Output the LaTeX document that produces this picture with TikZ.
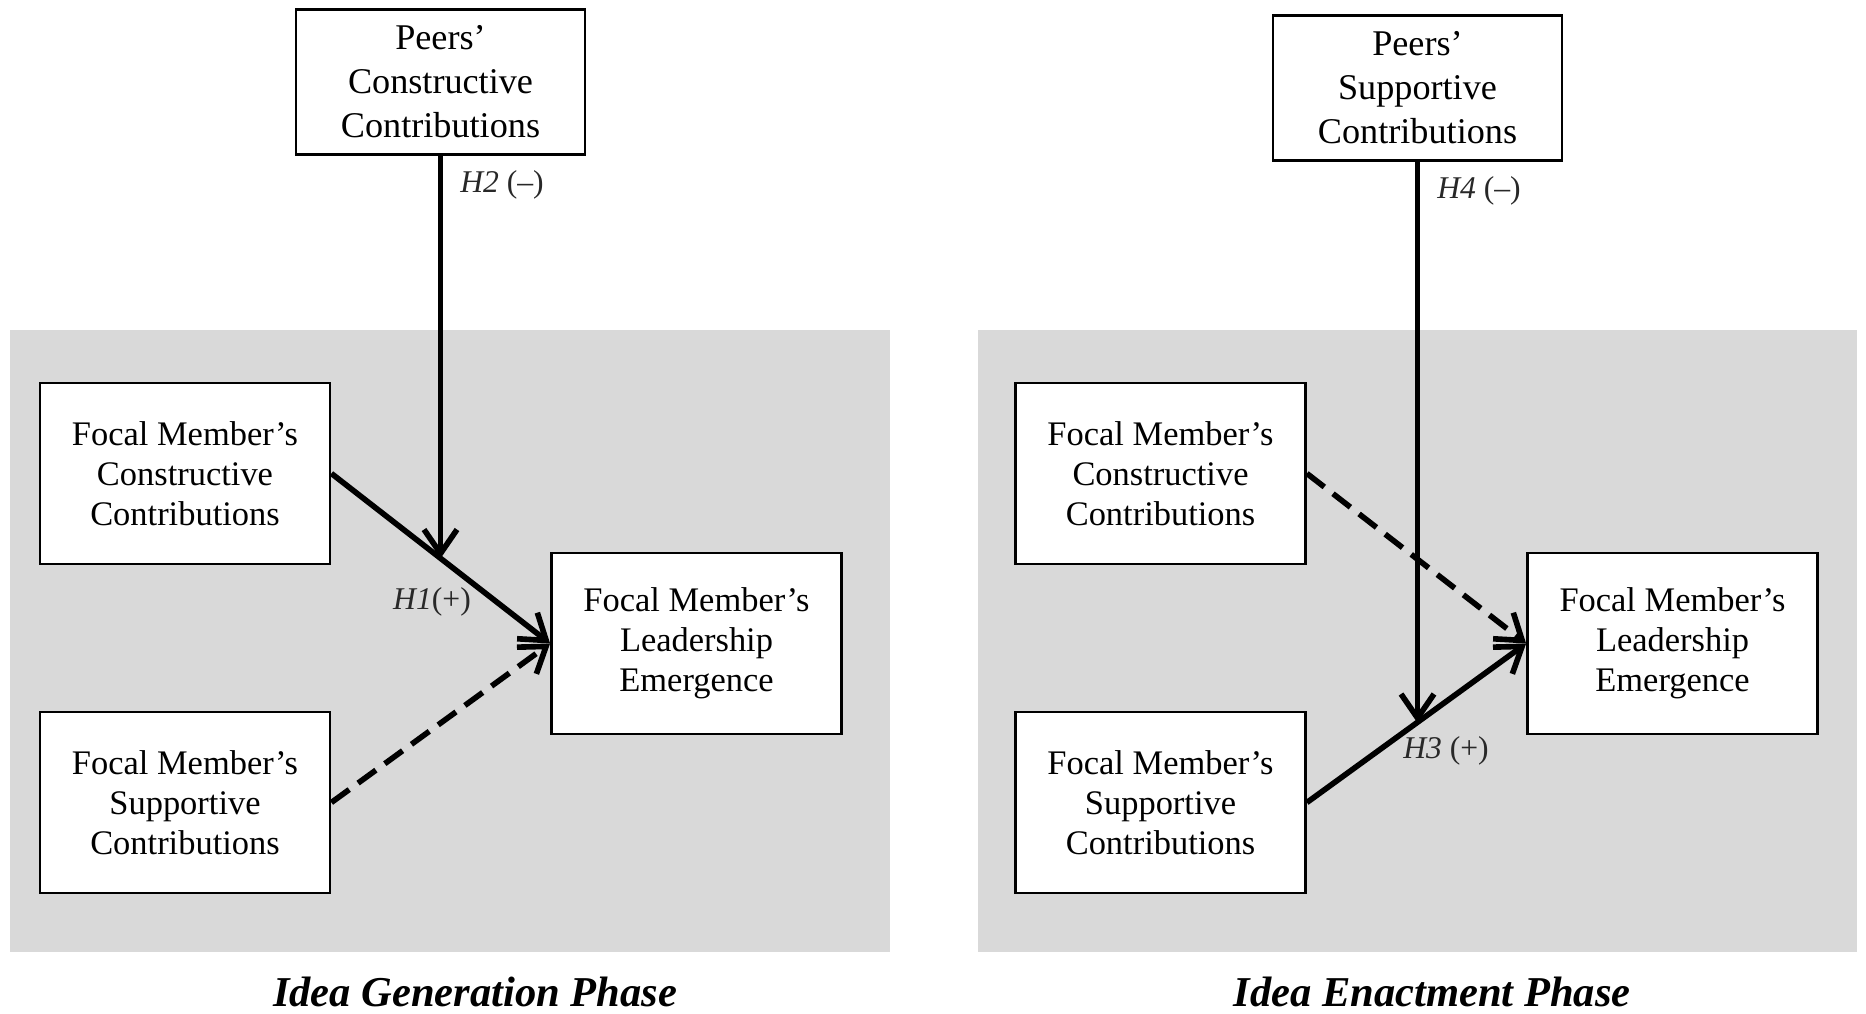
\documentclass[tikz,border=0pt]{standalone}
\usepackage{fontspec}
\setmainfont{Liberation Serif}
\usepackage{tikz}
\usetikzlibrary{arrows.meta, positioning}
\usepackage{xcolor}
\definecolor{panelgray}{RGB}{217, 217, 217}
\definecolor{textdark}{RGB}{0, 0, 0}
\definecolor{labelgray}{RGB}{40, 40, 40}

\begin{document}
\begin{tikzpicture}[
    focal/.style={rectangle, draw=textdark, fill=white, minimum width=2.9cm, minimum height=1.81cm, align=center, font=\fontsize{9.8}{11.4}\selectfont, line width=0.8pt, inner sep=0pt},
    peers/.style={rectangle, draw=textdark, fill=white, minimum width=2.89cm, minimum height=1.45cm, align=center, font=\fontsize{10.3}{12.5}\selectfont, line width=0.8pt, inner sep=0pt},
    hyp/.style={font=\fontsize{9}{11}\selectfont, text=labelgray, inner sep=1pt},
    phase/.style={font=\fontsize{12.1}{14}\selectfont\bfseries\itshape, anchor=base, inner sep=0pt},
    arrow/.style={-{Straight Barb[length=2.4mm, width=3.3mm]}, line width=1.6pt, color=textdark},
    dasharrow/.style={arrow, dash pattern=on 2.2mm off 1.1mm},
]
\useasboundingbox (0,0) rectangle (18.66,10.14);

% Panels
\fill[panelgray] (0.095,0.62) rectangle (8.90,6.84);
\fill[panelgray] (9.78,0.62) rectangle (18.57,6.84);

% Idea generation
\node[peers] (pcL) at (4.405, 9.32) {Peers’\\Constructive\\Contributions};
\node[focal] (fcL) at (1.85, 5.405) {Focal Member’s\\Constructive\\Contributions};
\node[focal] (fsL) at (1.85, 2.115) {Focal Member’s\\Supportive\\Contributions};
\node[focal] (flL) at (6.965, 3.705) {Focal Member’s\\Leadership\\Emergence};

% Idea enactment
\node[peers] (psR) at (14.175, 9.26) {Peers’\\Supportive\\Contributions};
\node[focal] (fcR) at (11.605, 5.405) {Focal Member’s\\Constructive\\Contributions};
\node[focal] (fsR) at (11.605, 2.115) {Focal Member’s\\Supportive\\Contributions};
\node[focal] (flR) at (16.725, 3.705) {Focal Member’s\\Leadership\\Emergence};

% Arrows
\draw[arrow] (fcL.east) -- coordinate[pos=0.5] (h1mid) (flL.west);
\draw[dasharrow] (fsL.east) -- (flL.west);
\draw[arrow] (pcL.south) -- (pcL.south |- h1mid);
\draw[dasharrow] (fcR.east) -- (flR.west);
\draw[arrow] (fsR.east) -- coordinate[pos=0.5] (h3mid) (flR.west);
\draw[arrow] (psR.south) -- (psR.south |- h3mid);

% Hypotheses
\node[hyp] (h2lab) at (5.02, 8.29) {\textit{H2} (–)};
\node[hyp] (h1lab) at (4.32, 4.12) {\textit{H1}(+)};
\node[hyp] (h4lab) at (14.79, 8.23) {\textit{H4} (–)};
\node[hyp] (h3lab) at (14.46, 2.63) {\textit{H3} (+)};

% Phases
\node[phase] (titleL) at (4.75, 0.07) {Idea Generation Phase};
\node[phase] (titleR) at (14.32, 0.07) {Idea Enactment Phase};

\end{tikzpicture}
\end{document}
